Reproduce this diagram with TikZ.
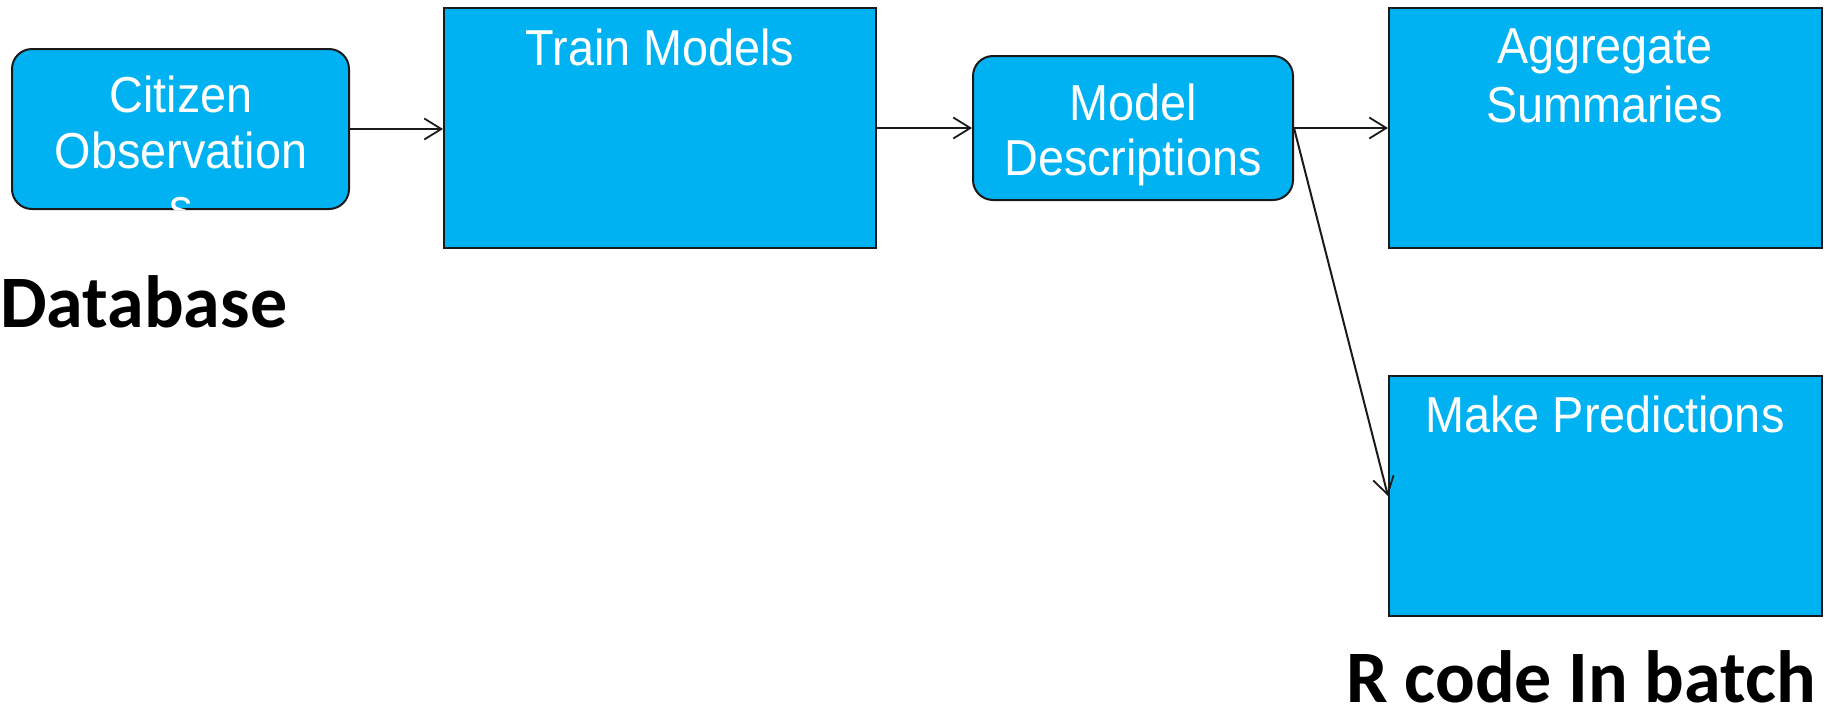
\documentclass[tikz,border=0pt]{standalone}
\usepackage{fontspec}
\setmainfont{Liberation Sans}
\newfontfamily\calibri{Carlito}
\usetikzlibrary{arrows.meta,calc}
\definecolor{boxblue}{HTML}{00B2F2}
\definecolor{edge}{HTML}{1A1A1A}
% captions in the stages are set slightly taller than wide
\newcommand{\tallcap}[1]{\scalebox{1}[1.08]{#1}}
\begin{document}
\begin{tikzpicture}[x=1pt,y=-1pt,
  stagebox/.style={draw=edge, line width=2pt, fill=boxblue, inner sep=0pt},
  roundbox/.style={stagebox, rounded corners=20pt},
  boxtext/.style={text=white, inner sep=0pt, anchor=base,
    font=\fontsize{46.8}{56}\selectfont},
  bigtext/.style={text=black, inner sep=0pt, anchor=base west, text depth=0pt,
    font=\calibri\bfseries\fontsize{74}{80}\selectfont},
  conn/.style={draw=edge, line width=2pt,
    -{Straight Barb[length=17pt,width=21pt,line width=1.8pt]}}]
\useasboundingbox (0,0) rectangle (1825,716);

% stages
\node[roundbox, minimum width=337pt, minimum height=160pt] (citizen) at (180.5,129) {};
\node[stagebox, minimum width=432pt, minimum height=240pt] (train) at (660,128) {};
\node[roundbox, minimum width=320pt, minimum height=144pt] (model) at (1133,128) {};
\node[stagebox, minimum width=433pt, minimum height=240pt] (agg) at (1605.5,128) {};
\node[stagebox, minimum width=433pt, minimum height=240pt] (make) at (1605.5,496) {};

% stage captions
\node[boxtext] (citizenA) at (181,112) {\tallcap{Citizen}};
\node[boxtext] (citizenB) at (181,168) {\tallcap{Observation}};
\begin{scope}
  \clip[rounded corners=19pt] ($(citizen.south west)+(1,-1)$) rectangle ($(citizen.north east)+(-1,1)$);
  \node[boxtext] (citizenC) at (181,224) {\tallcap{s}};
\end{scope}
\node[boxtext] (trainT) at (660,65) {\tallcap{Train Models}};
\node[boxtext] (modelA) at (1133,120) {\tallcap{Model}};
\node[boxtext] (modelB) at (1133,175) {\tallcap{Descriptions}};
\node[boxtext] (aggA) at (1605,63) {\tallcap{Aggregate}};
\node[boxtext] (aggB) at (1605,122) {\tallcap{Summaries}};
\node[boxtext] (makeT) at (1605,432) {\tallcap{Make Predictions}};

% connectors
\draw[conn] (citizen.east) -- (citizen.east -| train.west);
\draw[conn] (train.east) -- (model.west);
\draw[conn] (model.east) -- (agg.west);
\draw[conn] (model.east) -- (make.west);

% tier labels
\node[bigtext] (db) at (0,327) {Database};
\node[bigtext] (rcode) at (1346,702) {R code In batch};
\end{tikzpicture}
\end{document}
